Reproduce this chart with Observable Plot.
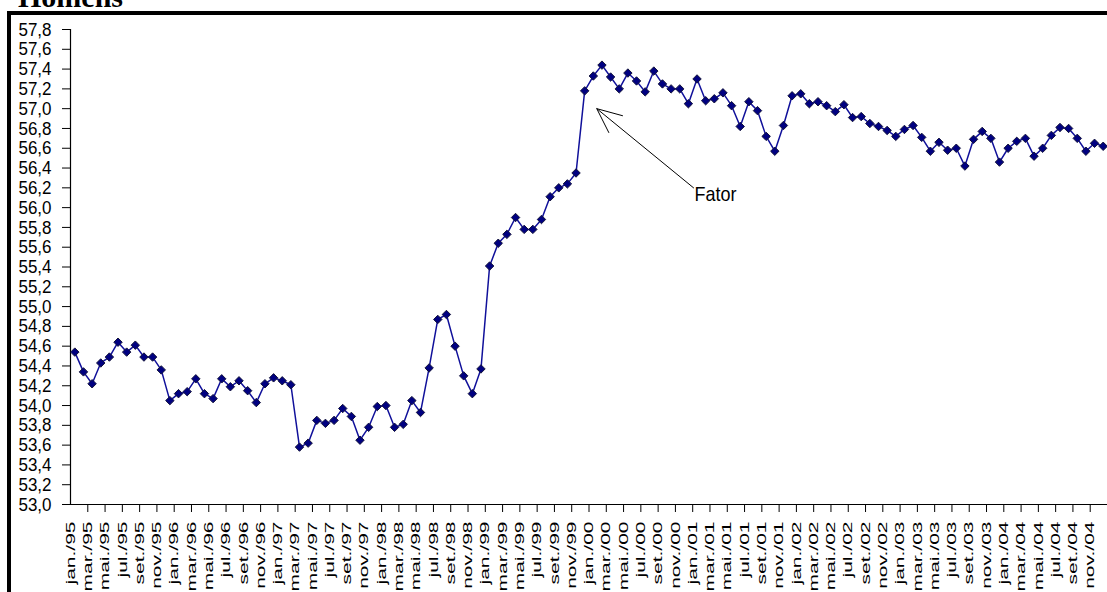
<!DOCTYPE html>
<html><head><meta charset="utf-8">
<script src="https://cdn.jsdelivr.net/npm/d3@7"></script>
<script src="https://cdn.jsdelivr.net/npm/@observablehq/plot@0.6"></script>
<style>
html,body{margin:0;padding:0;background:#fff;overflow:hidden;width:1107px;height:592px;}
#wrap{position:relative;width:1107px;height:592px;overflow:hidden;}
#title{position:absolute;left:18px;top:-18px;font:bold 30px "Liberation Serif","Times New Roman",serif;line-height:30px;white-space:nowrap;color:#000;}
#box{position:absolute;left:7px;top:11px;width:1200px;height:700px;border:4px solid #000;box-sizing:border-box;}
#chart{position:absolute;left:0;top:0;}
</style></head><body>
<div id="wrap"><div id="title">Homens</div><div id="box"></div><div id="chart"></div></div>
<script>
const months = ["jan.","fev.","mar.","abr.","mai.","jun.","jul.","ago.","set.","out.","nov.","dez."];
const years = ["95","96","97","98","99","00","01","02","03","04"];
const values = [
 54.54,54.34,54.22,54.43,54.49,54.64,54.54,54.61,54.49,54.49,54.36,54.05,
 54.12,54.14,54.27,54.12,54.07,54.27,54.19,54.25,54.15,54.03,54.22,54.28,
 54.25,54.21,53.58,53.62,53.85,53.82,53.85,53.97,53.89,53.65,53.78,53.99,
 54.00,53.78,53.81,54.05,53.93,54.38,54.87,54.92,54.60,54.30,54.12,54.37,
 55.41,55.64,55.73,55.90,55.78,55.78,55.88,56.11,56.20,56.24,56.35,57.18,
 57.33,57.44,57.32,57.20,57.36,57.28,57.17,57.38,57.25,57.20,57.20,57.05,
 57.30,57.08,57.10,57.16,57.03,56.82,57.07,56.98,56.72,56.57,56.83,57.13,
 57.15,57.05,57.07,57.03,56.97,57.04,56.91,56.92,56.85,56.82,56.78,56.72,
 56.79,56.83,56.71,56.57,56.66,56.58,56.60,56.42,56.69,56.77,56.70,56.46,
 56.60,56.67,56.70,56.52,56.60,56.73,56.81,56.80,56.70,56.57,56.65,56.62
];
const yTicks = [53.0,53.2,53.4,53.6,53.8,54.0,54.2,54.4,54.6,54.8,55.0,55.2,55.4,55.6,55.8,56.0,56.2,56.4,56.6,56.8,57.0,57.2,57.4,57.6,57.8];
const annotation = [{label:"Fator", tailX:71.6, tailY:56.2, tipX:60.4, tipY:57.0}];

const periods = years.flatMap(y => months.map(m => m + "/" + y));
const data = values.map((v, i) => ({i, v, label: periods[i]}));
const labelTicks = data.filter(d => d.i % 2 === 0).map(d => d.i);
const boundaryTicks = data.filter(d => d.i % 2 === 0).map(d => d.i + 1.5);

const chart = Plot.plot({
  width: 1107, height: 592,
  marginLeft: 70, marginRight: 0, marginTop: 29, marginBottom: 88,
  style: {fontFamily: "'Liberation Sans', Arial, sans-serif", background: "transparent", color: "#000"},
  x: {type: "linear", domain: [-0.5, 119.5]},
  y: {domain: [53, 57.8]},
  marks: [
    Plot.axisY({ticks: yTicks, tickSize: 8, tickPadding: 11, fontSize: 17,
      tickFormat: d => d.toFixed(1).replace(".", ",")}),
    Plot.axisX({ticks: boundaryTicks, tickSize: 8, tickFormat: () => ""}),
    Plot.axisX({ticks: labelTicks, tickSize: 0, tickPadding: 17, tickRotate: -90, fontSize: 12, dx: -4,
      tickFormat: i => periods[i]}),
    Plot.ruleX([-0.5], {stroke: "#000", strokeWidth: 1.2}),
    Plot.ruleY([53], {stroke: "#000", strokeWidth: 1.2}),
    Plot.line(data, {x: "i", y: "v", stroke: "#10109a", strokeWidth: 1.5}),
    Plot.dot(data, {x: "i", y: "v", symbol: "diamond2", r: 3.8, fill: "#000080", stroke: "#14143c", strokeWidth: 1}),
    Plot.arrow(annotation, {x1: "tailX", y1: "tailY", x2: "tipX", y2: "tipY", stroke: "#000", strokeWidth: 1, headLength: 40, headAngle: 48}),
    Plot.text(annotation, {x: "tailX", y: "tailY", text: "label", textAnchor: "start", lineAnchor: "middle", fontSize: 18, dx: 1, dy: 7, fill: "#000"})
  ]
});
document.getElementById("chart").appendChild(chart);

function stretch(sel, sx, sy) {
  chart.querySelectorAll(sel).forEach(t => {
    const tr = t.getAttribute("transform");
    if (tr) t.setAttribute("transform", tr + ` scale(${sx},${sy})`);
    else {
      const x = +(t.getAttribute("x") || 0), y = +(t.getAttribute("y") || 0);
      t.removeAttribute("x"); t.removeAttribute("y");
      t.setAttribute("transform", `translate(${x},${y}) scale(${sx},${sy})`);
    }
  });
}
stretch('g[aria-label="y-axis tick label"] text', 1, 1.12);
stretch('g[aria-label="x-axis tick label"] text', 1.75, 1);
stretch('g[aria-label="text"] text', 1, 1.15);
</script>
</body></html>
